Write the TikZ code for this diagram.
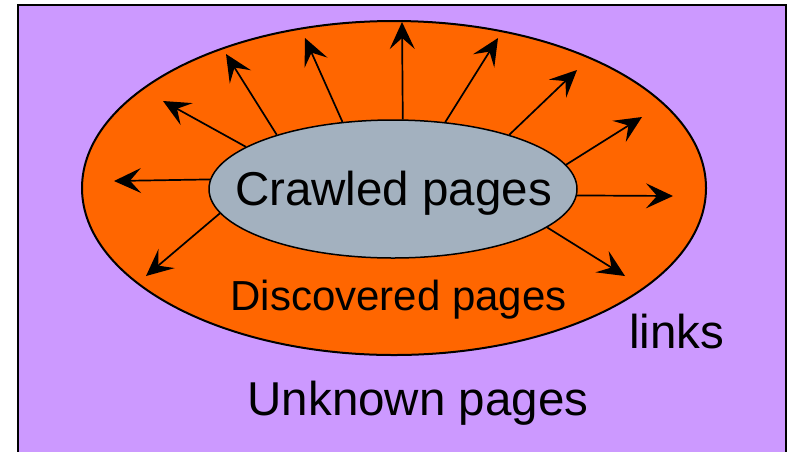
\documentclass[tikz,border=0pt]{standalone}
\usepackage{fontspec}
\setmainfont{Liberation Sans}
\usetikzlibrary{arrows.meta,shapes.geometric}
\definecolor{unknownfill}{HTML}{CC99FF}
\definecolor{discfill}{HTML}{FF6600}
\definecolor{crawlfill}{HTML}{A3B1BF}

\begin{document}
\begin{tikzpicture}[x=1pt,y=-1pt,
  link/.style={line width=1.7pt, -{Stealth[length=27pt,width=25pt,inset=11pt]}},
  lbl/.style={anchor=base, inner sep=0pt, font=\fontsize{47.5}{50}\selectfont},
  region/.style={draw, inner sep=0pt}]
\useasboundingbox (0,0) rectangle (791,451);
\clip (0,0) rectangle (791,451);

% the whole web
\node[region, rectangle, line width=1.5pt, fill=unknownfill,
      minimum width=768pt, minimum height=470pt, anchor=north west] (web) at (17,4) {};

% frontier of discovered pages
\node[region, ellipse, line width=2pt, fill=discfill,
      minimum width=624pt, minimum height=334pt] (disc) at (394,188) {};

% already crawled pages
\node[region, ellipse, line width=1.5pt, fill=crawlfill,
      minimum width=368pt, minimum height=138pt] (crawl) at (393,189) {};

% link targets
\coordinate (t1)  at (163,101);
\coordinate (t2)  at (226,54);
\coordinate (t3)  at (305,38);
\coordinate (t4)  at (402,22);
\coordinate (t5)  at (498,38);
\coordinate (t6)  at (577,70);
\coordinate (t7)  at (642,117);
\coordinate (t8)  at (673,196);
\coordinate (t9)  at (625,276);
\coordinate (t10) at (146,276);
\coordinate (t11) at (114,181);

% outgoing links
\draw[link] (crawl.164.6) -- (t1);
\draw[link] (crawl.155)   -- (t2);
\draw[link] (crawl.127.9) -- (t3);
\draw[link] (crawl.82.8)  -- (t4);
\draw[link] (crawl.52.1)  -- (t5);
\draw[link] (crawl.25)    -- (t6);
\draw[link] (crawl.8.7)   -- (t7);
\draw[link] (crawl.-2.2)  -- (t8);
\draw[link] (crawl.-14.9) -- (t9);
\draw[link] (crawl.188.4) -- (t10);
\draw[link] (crawl.177.5) -- (t11);

% labels
\node[lbl] (crawltext) at (393.5,205) {Crawled pages};
\node[lbl, font=\fontsize{42}{44}\selectfont] (disctext) at (398.5,310) {Discovered pages};
\node[lbl] (unknowntext) at (418,415) {Unknown pages};
\node[lbl] (linkstext) at (676.5,348) {links};
\end{tikzpicture}
\end{document}
